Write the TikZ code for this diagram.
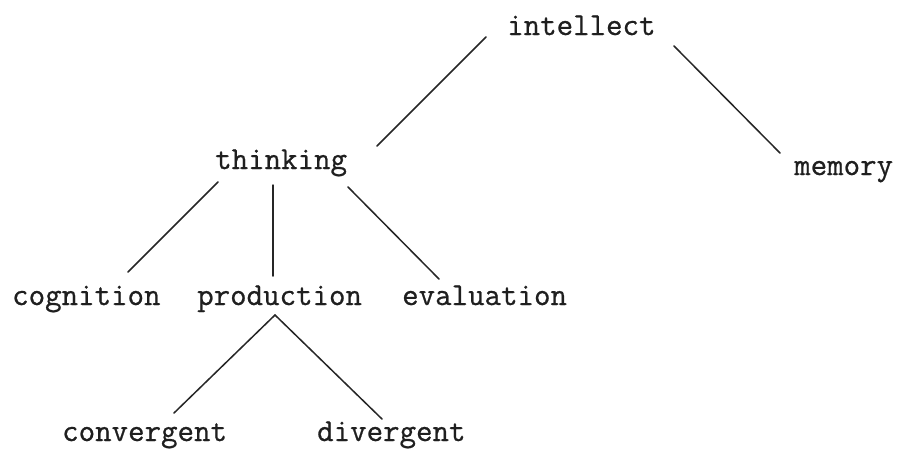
\documentclass[tikz,border=0pt]{standalone}
\usepackage{fontspec}
\setmonofont{Latin Modern Mono}[FakeBold=0.7]
\begin{document}
\begin{tikzpicture}[x=1pt,y=-1pt,
  term/.style={anchor=base west,inner sep=0pt,text=black!88,
    font=\fontsize{32}{36}\selectfont\ttfamily},
  branch/.style={draw=black!85,line width=1.5pt,line cap=round}]
\useasboundingbox[fill=white] (0,0) rectangle (898,448);

% terms of the tree, each placed by the left end of its baseline
\node[term] (intellect)  at (507,35)  {intellect};
\node[term] (thinking)   at (215,169) {thinking};
\node[term] (memory)     at (794,175) {memory};
\node[term] (cognition)  at (12,305)  {cognition};
\node[term] (production) at (197,305) {production};
\node[term] (evaluation) at (402,305) {evaluation};
\node[term] (convergent) at (62,441)  {convergent};
\node[term] (divergent)  at (317,441) {divergent};

% branches
\draw[branch] ([shift={(-21,2)}]intellect.base west) -- ([shift={(162,-23)}]thinking.base west);
\draw[branch] ([shift={(167,11)}]intellect.base west) -- ([shift={(-14,-22)}]memory.base west);
\draw[branch] ([shift={(3,13)}]thinking.base west) -- ([shift={(116,-33)}]cognition.base west);
\draw[branch] ([shift={(58,16)}]thinking.base west) -- ([shift={(76,-29)}]production.base west);
\draw[branch] ([shift={(133,18)}]thinking.base west) -- ([shift={(37,-26)}]evaluation.base west);
\draw[branch] ([shift={(78,10)}]production.base west) -- ([shift={(112,-28)}]convergent.base west);
\draw[branch] ([shift={(78,10)}]production.base west) -- ([shift={(65,-22)}]divergent.base west);
\end{tikzpicture}
\end{document}
